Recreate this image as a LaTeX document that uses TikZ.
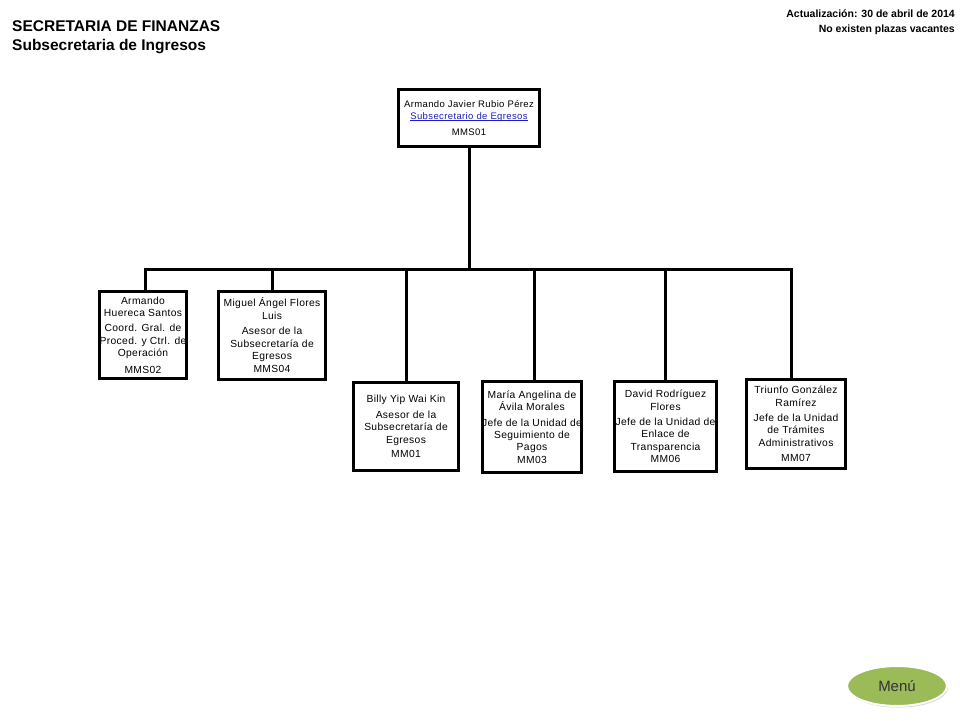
\documentclass[tikz,border=0pt]{standalone}
\usepackage{fontspec}
\setmainfont{Liberation Sans}
\usetikzlibrary{positioning,shapes.geometric,shadows}
\definecolor{menugreen}{RGB}{155,187,89}
\definecolor{linkblue}{RGB}{30,30,200}
\newcommand{\boxfont}{\fontsize{10.3}{12.4}\selectfont\addfontfeatures{LetterSpace=3.5}}
\newcommand{\headfont}{\fontsize{9.5}{12}\selectfont\addfontfeatures{LetterSpace=4}}
\newcommand{\lnk}[1]{\setbox0\hbox{#1}\rlap{\rule[-1.6pt]{\wd0}{0.6pt}}\box0}
\tikzset{
	post/.style={
		rectangle,
		draw=black,
		line width=3pt,
		fill=white,
		align=center,
		inner xsep=0pt,
		inner ysep=1pt,
		font=\boxfont,
	},
	link/.style={
		line width=3pt,
	},
	menu/.style={
		ellipse,
		draw=white,
		line width=2pt,
		fill=menugreen,
		drop shadow={shadow xshift=1pt,shadow yshift=-1.5pt,opacity=0.4},
		minimum width=100pt,
		minimum height=40pt,
		font=\fontsize{15}{17}\selectfont\color{black!80},
	},
}

\begin{document}
\begin{tikzpicture}[x=1pt,y=-1pt]
	\useasboundingbox (0,0) rectangle (960,720);

	% titles
	\node [anchor=base west,inner sep=0pt,font=\fontsize{15.5}{18}\selectfont\bfseries] (title) at (12,31) {SECRETARIA DE FINANZAS};
	\node [anchor=base west,inner sep=0pt,font=\fontsize{15.5}{18}\selectfont\bfseries] (subtitle) at (12,50) {Subsecretaria de Ingresos};
	\node [anchor=base east,inner sep=0pt,font=\fontsize{10.5}{12}\selectfont\bfseries] (date) at (955,17) {Actualización: 30 de abril de 2014};
	\node [anchor=base east,inner sep=0pt,font=\fontsize{10.5}{12}\selectfont\bfseries] (note) at (955,32) {No existen plazas vacantes};

	% head
	\node [
	  post,
	  font=\headfont,
	  minimum width=141pt,
	  minimum height=57pt,
	] (head) at (469,118) {Armando Javier Rubio Pérez\\
	  {\color{linkblue}\lnk{Subsecretario de Egresos}}\\[4pt]
	  MMS01};

	% staff
	\node [
	  post,
	  minimum width=87pt,
	  minimum height=87pt,
	] (mms02) at (143,335) {Armando\\Huereca Santos\\[3pt]
	  Coord. Gral. de\\Proced. y Ctrl. de\\Operación\\[4pt]MMS02};
	\node [
	  post,
	  minimum width=107pt,
	  minimum height=88pt,
	] (mms04) at (272,335.5) {Miguel Ángel Flores\\Luis\\[3pt]
	  Asesor de la\\Subsecretaría de\\Egresos\\[1pt]MMS04};
	\node [
	  post,
	  minimum width=105pt,
	  minimum height=88pt,
	] (mm01) at (406,426.5) {Billy Yip Wai Kin\\[3pt]
	  Asesor de la\\Subsecretaría de\\Egresos\\[2pt]MM01};
	\node [
	  post,
	  minimum width=99pt,
	  minimum height=91pt,
	] (mm03) at (532,427) {María Angelina de\\Ávila Morales\\[3pt]
	  Jefe de la Unidad de\\Seguimiento de\\Pagos\\MM03};
	\node [
	  post,
	  minimum width=102pt,
	  minimum height=90pt,
	] (mm06) at (665.5,426.5) {David Rodríguez\\Flores\\[3pt]
	  Jefe de la Unidad de\\Enlace de\\Transparencia\\MM06};
	\node [
	  post,
	  minimum width=99pt,
	  minimum height=89pt,
	] (mm07) at (796,424) {Triunfo González\\Ramírez\\[3pt]
	  Jefe de la Unidad\\de Trámites\\Administrativos\\[3pt]MM07};

	\node [menu] (menu) at (897,686) {Menú};

	\coordinate (bus) at (469,269);

	\draw[link] (head.south) -- (bus);
	\draw[link] (bus) -| ([xshift=2pt]mms02.north);
	\draw[link] (bus) -| (mms04.north);
	\draw[link] (bus) -| (mm01.north);
	\draw[link] (bus) -| ([xshift=2pt]mm03.north);
	\draw[link] (bus) -| (mm06.north);
	\draw[link] (bus) -| ([xshift=-5pt]mm07.north);
\end{tikzpicture}
\end{document}
